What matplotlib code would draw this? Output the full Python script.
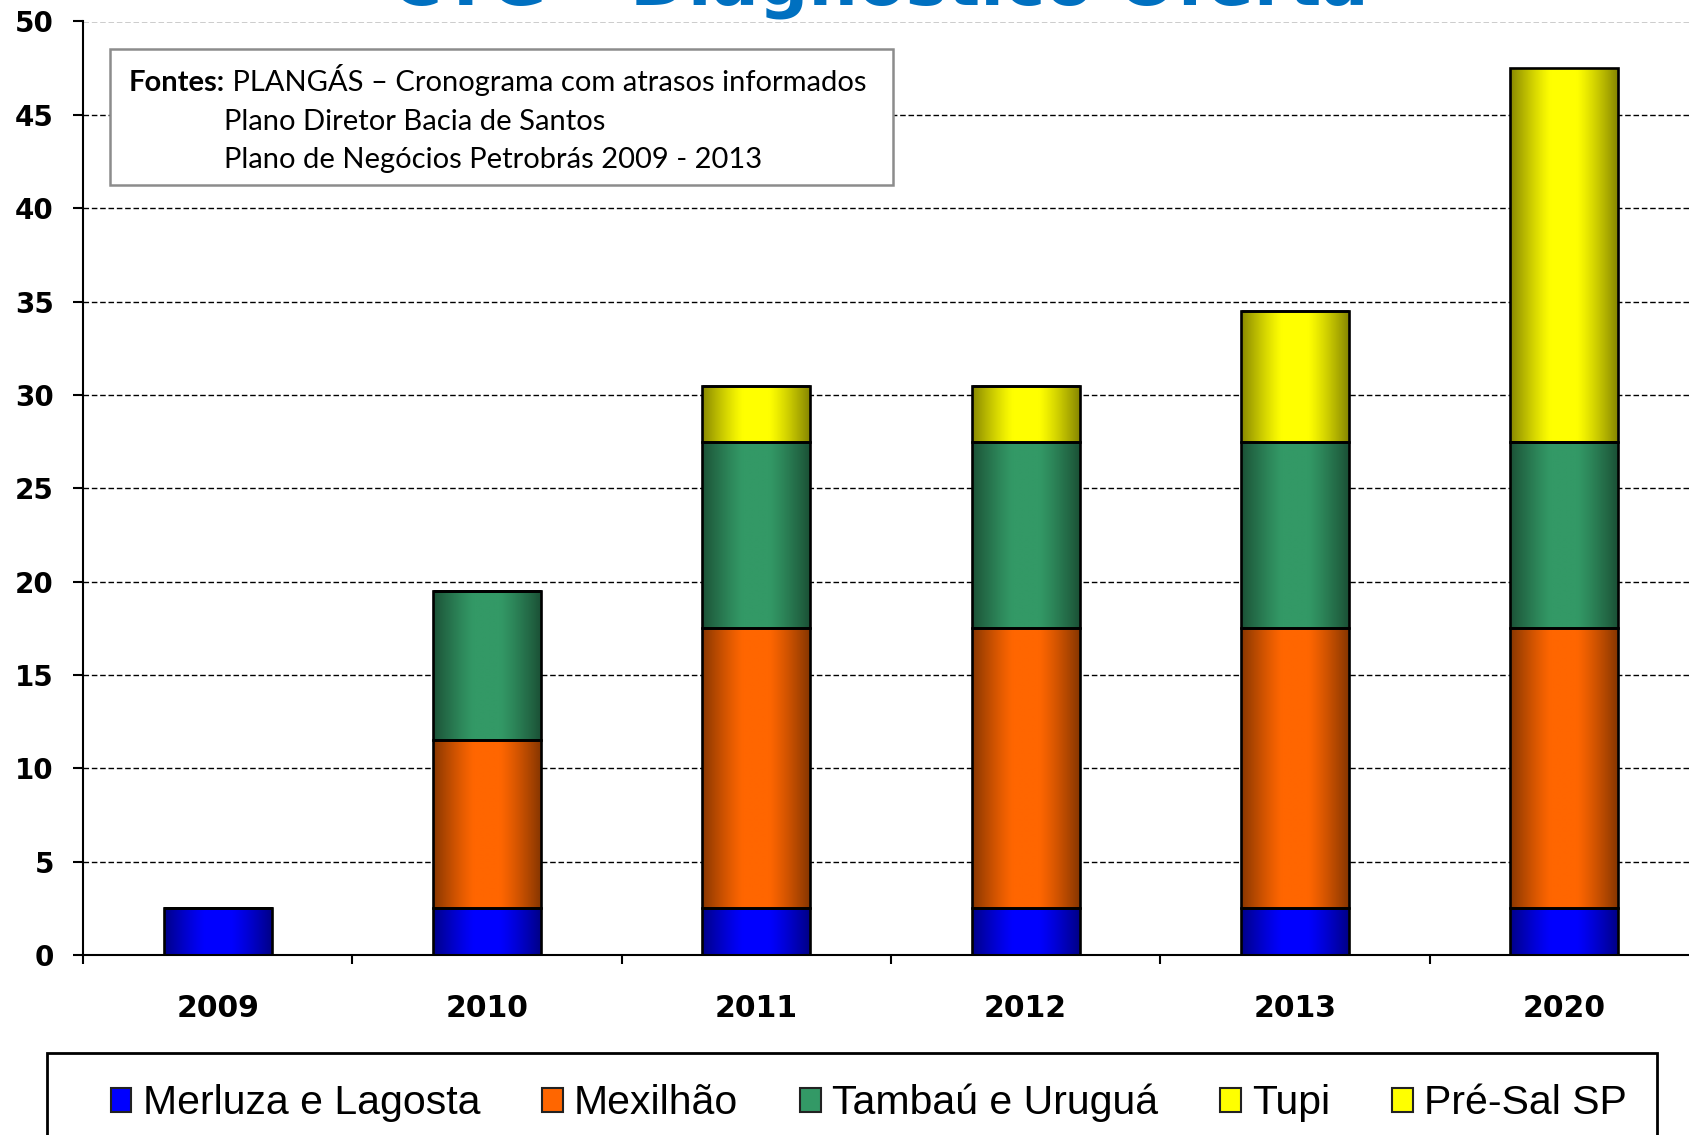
import numpy as np
import matplotlib
matplotlib.use("Agg")
import matplotlib.pyplot as plt
from matplotlib.patches import Patch, Rectangle
from matplotlib.text import Annotation

# data
years = ["2009", "2010", "2011", "2012", "2013", "2020"]
series_names = ["Merluza e Lagosta", "Mexilhão", "Tambaú e Uruguá", "Tupi", "Pré-Sal SP"]
merluza = [2.5, 2.5, 2.5, 2.5, 2.5, 2.5]
mexilhao = [0, 9, 15, 15, 15, 15]
tambau = [0, 8, 10, 10, 10, 10]
tupi = [0, 0, 3, 3, 7, 0]
presal = [0, 0, 0, 0, 0, 20]
series_values = [merluza, mexilhao, tambau, tupi, presal]
colors = ["#0000FF", "#FF6600", "#339966", "#FFFF00", "#FFFF00"]

title_text = "CTG – Diagnóstico Oferta"
source_lines = ["PLANGÁS – Cronograma com atrasos informados",
                "Plano Diretor Bacia de Santos",
                "Plano de Negócios Petrobrás 2009 - 2013"]

W, H = 1689, 1135


def fx(px):
    return px / W


def fy(py):
    return 1 - py / H


def to_rgb(c):
    c = c.lstrip("#")
    return np.array([int(c[i:i + 2], 16) / 255 for i in (0, 2, 4)])


def shade_profile(n=200):
    # dark at the bar edges, bright in the middle
    u = np.linspace(0, 1, n)
    d = np.clip((np.abs(u - 0.5) - 0.12) / 0.38, 0, 1)
    return 1 - 0.47 * d ** 1.2


fig = plt.figure(figsize=(W / 100, H / 100), dpi=100)
ax = fig.add_axes([fx(83), fy(955), fx(1699 - 83), fy(21.5) - fy(955)])

x = np.arange(len(years))
bottom = np.zeros(len(years))
prof = shade_profile()
for vals, col in zip(series_values, colors):
    vals = np.array(vals, dtype=float)
    bars = ax.bar(x, vals, width=0.4, bottom=bottom, facecolor="none",
                  edgecolor="black", linewidth=1.9, zorder=3)
    base = to_rgb(col)
    img = (prof[:, None] * base[None, :])[None, :, :]
    for b, v in zip(bars, vals):
        if v <= 0:
            continue
        im = ax.imshow(img, extent=(b.get_x(), b.get_x() + b.get_width(),
                                    b.get_y(), b.get_y() + b.get_height()),
                       aspect="auto", interpolation="bilinear", zorder=2)
        im.set_clip_path(b)
    bottom += vals

ax.set_xlim(-0.5, len(years) - 0.5)
ax.set_ylim(0, 50)
ax.set_yticks(np.arange(0, 51, 5))
ax.set_xticks(x)
ax.set_xticklabels(years)
ax.set_xticks(np.arange(-0.5, len(years)), minor=True)

ax.tick_params(axis="x", which="major", length=0, pad=28, labelsize=21.5)
ax.tick_params(axis="x", which="minor", length=6.5, width=1.5, direction="out")
ax.tick_params(axis="y", which="major", length=7, width=1.5, direction="out",
               pad=14, labelsize=20)
for lab in ax.get_xticklabels() + ax.get_yticklabels():
    lab.set_fontweight("bold")

ax.yaxis.grid(True, linestyle=(0, (4, 2)), color="black", linewidth=1.0)
ax.set_axisbelow(True)
for s in ["top", "right"]:
    ax.spines[s].set_visible(False)
for s in ["left", "bottom"]:
    ax.spines[s].set_linewidth(1.5)
    ax.spines[s].set_zorder(4)

# sources box
box = Rectangle((fx(110), fy(185)), fx(893) - fx(110), fy(49.5) - fy(185),
                transform=fig.transFigure, facecolor="white", edgecolor="#8c8c8c",
                linewidth=1.8, zorder=5)
fig.patches.append(box)
src_font = ["Lato", "DejaVu Sans"]
t1 = fig.text(fx(129), fy(83), "Fontes:", fontsize=21, fontweight="bold",
              family=src_font, va="center", zorder=6)
rest = Annotation(" " + source_lines[0], xy=(1, 0), xycoords=t1, va="bottom",
                  ha="left", fontsize=21, family=src_font, zorder=6)
fig.add_artist(rest)
fig.text(fx(224), fy(121.5), source_lines[1], fontsize=21, family=src_font,
         va="center", zorder=6)
fig.text(fx(224), fy(160), source_lines[2], fontsize=21, family=src_font,
         va="center", zorder=6)

# title, partly cut by the top edge as in the original slide
fig.text(fx(880), fy(5), title_text, fontsize=50, fontweight="bold",
         color="#0070C0", ha="center", va="baseline")

# legend box (runs past the bottom edge)
frame = Rectangle((fx(47), fy(1160)), fx(1657) - fx(47), fy(1053) - fy(1160),
                  transform=fig.transFigure, facecolor="white", edgecolor="black",
                  linewidth=2, zorder=5)
fig.patches.append(frame)
handles = [Patch(facecolor=c, edgecolor="#222222", linewidth=1.5) for c in colors]
leg = fig.legend(handles, series_names, loc="center left", ncol=5,
                 bbox_to_anchor=(fx(111), fy(1103)),
                 bbox_transform=fig.transFigure,
                 prop={"family": ["Liberation Sans", "DejaVu Sans"], "size": 29.5},
                 handlelength=0.5, handleheight=0.54, handletextpad=0.27,
                 columnspacing=1.52, borderpad=0, borderaxespad=0,
                 frameon=False)
leg.set_zorder(6)

fig.savefig("out.png", dpi=100)
